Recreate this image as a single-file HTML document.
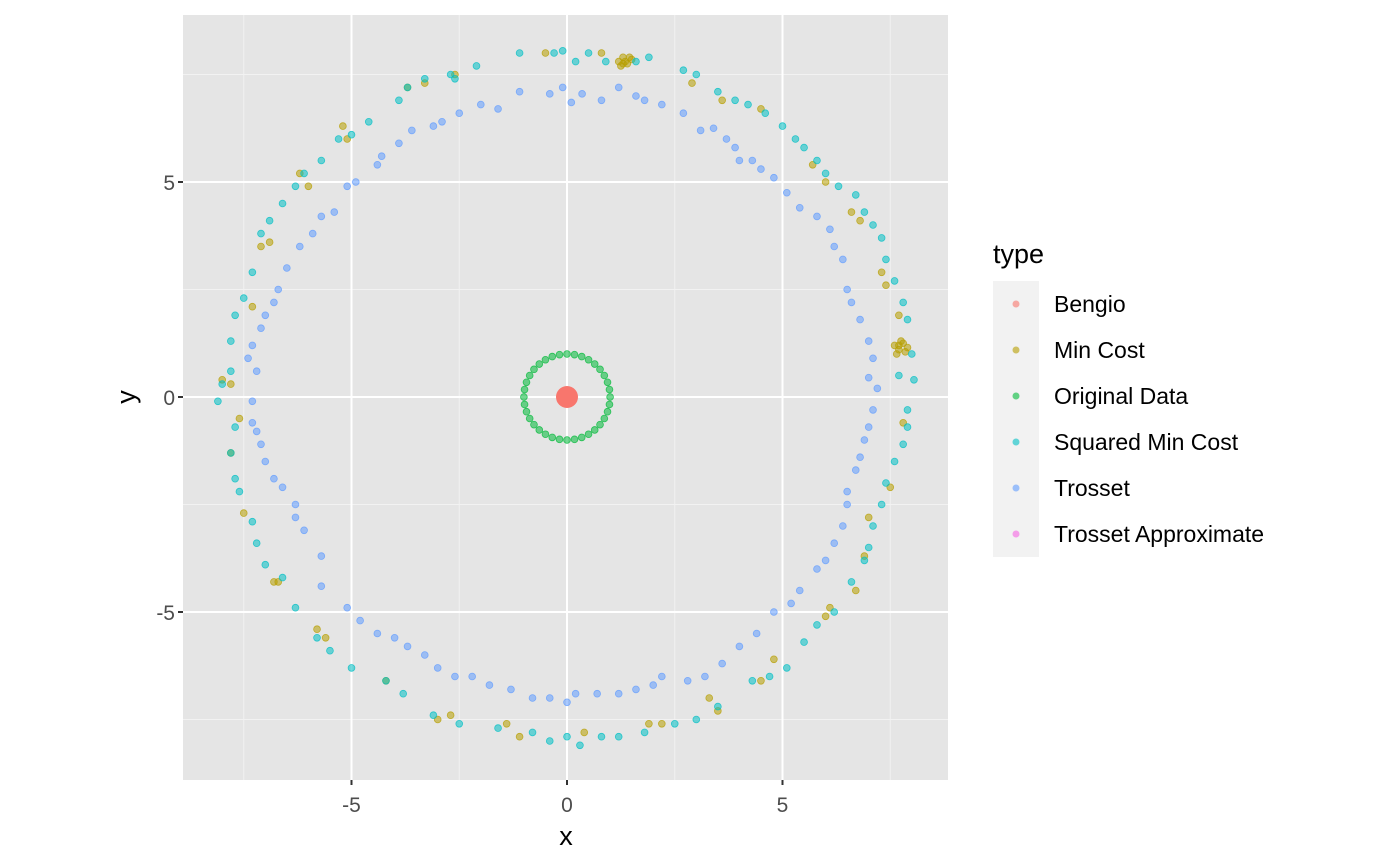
<!DOCTYPE html>
<html><head><meta charset="utf-8"><style>
body{margin:0;background:#fff;}
svg{display:block;font-family:"Liberation Sans",Arial,sans-serif;}
</style></head><body>
<svg id="chart" width="1400" height="865">
<rect x="183" y="15" width="765" height="765" fill="#E5E5E5"/>
<g id="grid"></g>
<g id="pts"></g>
<g id="axes"></g>
<text x="566" y="845" font-size="27" text-anchor="middle" fill="#000">x</text>
<text x="0" y="0" font-size="27" text-anchor="middle" fill="#000" transform="translate(135,397) rotate(-90)">y</text>
<g id="legend">
<text x="993" y="263" font-size="27" fill="#000">type</text>
</g>
</svg>
<script>
const xTicks=[-5,0,5];
const yTicks=[-5,0,5];
const minorTicks=[-7.5,-2.5,2.5,7.5];
const seriesNames=["Bengio","Min Cost","Original Data","Squared Min Cost","Trosset","Trosset Approximate"];
const seriesColors=["#F8766D","#B79F00","#00BA38","#00BFC4","#619CFF","#F564E3"];
const bengioX=[0];
const bengioY=[0];
const origX=[1,0.985,0.94,0.866,0.766,0.643,0.5,0.342,0.174,0,-0.174,-0.342,-0.5,-0.643,-0.766,-0.866,-0.94,-0.985,-1,-0.985,-0.94,-0.866,-0.766,-0.643,-0.5,-0.342,-0.174,0,0.174,0.342,0.5,0.643,0.766,0.866,0.94,0.985];
const origY=[0,0.174,0.342,0.5,0.643,0.766,0.866,0.94,0.985,1,0.985,0.94,0.866,0.766,0.643,0.5,0.342,0.174,0,-0.174,-0.342,-0.5,-0.643,-0.766,-0.866,-0.94,-0.985,-1,-0.985,-0.94,-0.866,-0.766,-0.643,-0.5,-0.342,-0.174];
const trossetX=[-1.1,-0.4,-0.1,0.1,0.35,0.8,1.2,1.6,1.8,2.2,2.7,3.1,3.4,3.7,3.9,4.0,4.3,4.5,4.8,5.1,5.4,5.8,6.1,6.2,6.4,6.5,6.6,6.8,7.0,7.1,7.0,7.2,7.1,7.0,6.9,6.8,6.7,6.5,6.5,6.4,6.2,6.0,5.8,5.4,5.2,4.8,4.4,4.0,3.6,3.2,2.8,2.2,2.0,1.6,1.2,0.7,0.2,0,-0.4,-0.8,-1.3,-1.8,-2.2,-2.6,-3.0,-3.3,-3.7,-4.0,-4.4,-4.8,-5.1,-5.7,-5.7,-6.1,-6.3,-6.3,-6.6,-6.8,-7.0,-7.1,-7.2,-7.3,-7.3,-7.2,-7.4,-7.3,-7.1,-7.0,-6.8,-6.7,-6.5,-6.2,-5.9,-5.7,-5.4,-5.1,-4.9,-4.4,-4.3,-3.9,-3.6,-3.1,-2.9,-2.5,-2.0,-1.6];
const trossetY=[7.1,7.05,7.2,6.85,7.05,6.9,7.2,7.0,6.9,6.8,6.6,6.2,6.25,6.0,5.8,5.5,5.5,5.3,5.1,4.75,4.4,4.2,3.9,3.5,3.2,2.5,2.2,1.8,1.3,0.9,0.45,0.2,-0.3,-0.7,-1.0,-1.4,-1.7,-2.2,-2.5,-3.0,-3.4,-3.8,-4.0,-4.5,-4.8,-5.0,-5.5,-5.8,-6.2,-6.5,-6.6,-6.5,-6.7,-6.8,-6.9,-6.9,-6.9,-7.1,-7.0,-7.0,-6.8,-6.7,-6.5,-6.5,-6.3,-6.0,-5.8,-5.6,-5.5,-5.2,-4.9,-4.4,-3.7,-3.1,-2.8,-2.5,-2.1,-1.9,-1.5,-1.1,-0.8,-0.6,-0.1,0.6,0.9,1.2,1.6,1.9,2.2,2.5,3.0,3.5,3.8,4.2,4.3,4.9,5.0,5.4,5.6,5.9,6.2,6.3,6.4,6.6,6.8,6.7];
const sqX=[-1.1,-0.3,-0.1,0.2,0.5,0.9,1.6,1.9,2.7,3.0,3.5,3.9,4.2,4.6,5.0,5.3,5.5,5.8,6.0,6.3,6.7,6.9,7.1,7.3,7.4,7.6,7.8,7.9,8.0,8.05,7.7,7.9,7.9,7.8,7.6,7.4,7.3,7.1,7.0,6.9,6.6,6.2,5.8,5.5,5.1,4.7,4.3,3.5,3.0,2.5,1.8,1.2,0.8,0.3,0,-0.4,-0.8,-1.6,-2.5,-3.1,-3.8,-4.2,-5.0,-5.5,-5.8,-6.3,-6.6,-7.0,-7.2,-7.3,-7.6,-7.7,-7.8,-7.7,-8.1,-8.0,-7.8,-7.8,-7.7,-7.5,-7.3,-7.1,-6.9,-6.6,-6.3,-6.1,-5.7,-5.3,-5.0,-4.6,-3.9,-3.7,-3.3,-2.6,-2.7,-2.1];
const sqY=[8.0,8.0,8.05,7.8,8.0,7.8,7.8,7.9,7.6,7.5,7.1,6.9,6.8,6.6,6.3,6.0,5.8,5.5,5.2,4.9,4.7,4.3,4.0,3.7,3.2,2.7,2.2,1.8,1.0,0.4,0.5,-0.3,-0.7,-1.1,-1.5,-2.0,-2.5,-3.0,-3.5,-3.8,-4.3,-5.0,-5.3,-5.7,-6.3,-6.5,-6.6,-7.2,-7.5,-7.6,-7.8,-7.9,-7.9,-8.1,-7.9,-8.0,-7.8,-7.7,-7.6,-7.4,-6.9,-6.6,-6.3,-5.9,-5.6,-4.9,-4.2,-3.9,-3.4,-2.9,-2.2,-1.9,-1.3,-0.7,-0.1,0.3,0.6,1.3,1.9,2.3,2.9,3.8,4.1,4.5,4.9,5.2,5.5,6.0,6.1,6.4,6.9,7.2,7.4,7.4,7.5,7.7];
const minX=[1.2,1.3,1.4,1.5,1.25,1.35,1.45,1.3,7.6,7.7,7.8,7.9,7.65,7.75,7.85,7.7,-0.5,0.8,2.9,3.6,4.5,5.7,6.0,6.6,6.8,7.3,7.4,7.7,7.8,7.5,7.0,6.9,6.7,6.1,6.0,4.8,4.5,3.5,3.3,2.2,1.9,0.4,-1.1,-1.4,-2.7,-3.0,-4.2,-5.6,-5.8,-6.7,-6.8,-7.6,-7.8,-7.5,-7.3,-7.1,-6.9,-8.0,-7.8,-6.2,-6.0,-5.2,-5.1,-3.7,-3.3,-2.6];
const minY=[7.8,7.9,7.75,7.85,7.7,7.8,7.9,7.75,1.2,1.1,1.25,1.15,1.0,1.3,1.05,1.2,8.0,8.0,7.3,6.9,6.7,5.4,5.0,4.3,4.1,2.9,2.6,1.9,-0.6,-2.1,-2.8,-3.7,-4.5,-4.9,-5.1,-6.1,-6.6,-7.3,-7.0,-7.6,-7.6,-7.8,-7.9,-7.6,-7.4,-7.5,-6.6,-5.6,-5.4,-4.3,-4.3,-0.5,-1.3,-2.7,2.1,3.5,3.6,0.4,0.3,5.2,4.9,6.3,6.0,7.2,7.3,7.5];
const approxX=[];
const approxY=[];

const NS="http://www.w3.org/2000/svg";
const x0=183,x1=948,y0=15,y1=780;
function sx(v){return 567+v*43.1;}
function sy(v){return 397-v*43.0;}
function mk(tag,attrs,parent){const e=document.createElementNS(NS,tag);for(const k in attrs)e.setAttribute(k,attrs[k]);parent.appendChild(e);return e;}
const grid=document.getElementById('grid');
minorTicks.forEach(t=>{
  const a=mk('line',{x1:sx(t),x2:sx(t),y1:y0,y2:y1,stroke:'#F2F2F2','stroke-width':1},grid);
  
  
  const b=mk('line',{x1:x0,x2:x1,y1:sy(t),y2:sy(t),stroke:'#F2F2F2','stroke-width':1},grid);
  
  
});
const axes=document.getElementById('axes');
xTicks.forEach(t=>{
  const a=mk('line',{x1:sx(t),x2:sx(t),y1:y0,y2:y1,stroke:'#fff','stroke-width':2},grid);
  
  
  const tk=mk('line',{x1:sx(t),x2:sx(t),y1:y1,y2:y1+5,stroke:'#333','stroke-width':2},axes);
  
  
  const tx=mk('text',{x:sx(t),y:y1+32,'font-size':21,'text-anchor':'middle',fill:'#4D4D4D'},axes);
  tx.textContent=t;
  
  
});
yTicks.forEach(t=>{
  const a=mk('line',{x1:x0,x2:x1,y1:sy(t),y2:sy(t),stroke:'#fff','stroke-width':2},grid);
  
  
  const tk=mk('line',{x1:x0-5,x2:x0,y1:sy(t),y2:sy(t),stroke:'#333','stroke-width':2},axes);
  
  
  const tx=mk('text',{x:x0-8,y:sy(t)+8,'font-size':21,'text-anchor':'end',fill:'#4D4D4D'},axes);
  tx.textContent=t;
  
  
});
const pts=document.getElementById('pts');
function plot(xs,ys,col,r,name){
  xs.forEach((v,i)=>{
    const c=mk('circle',{cx:sx(v),cy:sy(ys[i]),r:r,fill:col,'fill-opacity':0.55,stroke:col,'stroke-opacity':0.75,'stroke-width':0.8},pts);
    
    
  });
}
plot(minX,minY,seriesColors[1],3.4,'min-cost-point');
plot(sqX,sqY,seriesColors[3],3.4,'squared-min-cost-point');
plot(trossetX,trossetY,seriesColors[4],3.4,'trosset-point');
plot(origX,origY,seriesColors[2],3.4,'original-data-point');
plot(approxX,approxY,seriesColors[5],3.4,'trosset-approximate-point');
bengioX.forEach((v,i)=>{
  const c=mk('circle',{cx:sx(v),cy:sy(bengioY[i]),r:11,fill:seriesColors[0]},pts);
  
  
});
const leg=document.getElementById('legend');
seriesNames.forEach((n,i)=>{
  const top=281+i*46;
  const k=mk('rect',{x:993,y:top,width:46,height:46,fill:'#F2F2F2'},leg);
  
  
  const c=mk('circle',{cx:1016,cy:top+23,r:3.5,fill:seriesColors[i],'fill-opacity':0.6},leg);
  
  
  const t=mk('text',{x:1054,y:top+31,'font-size':23,fill:'#000'},leg);
  t.textContent=n;
  
  
});
</script>
</body></html>
